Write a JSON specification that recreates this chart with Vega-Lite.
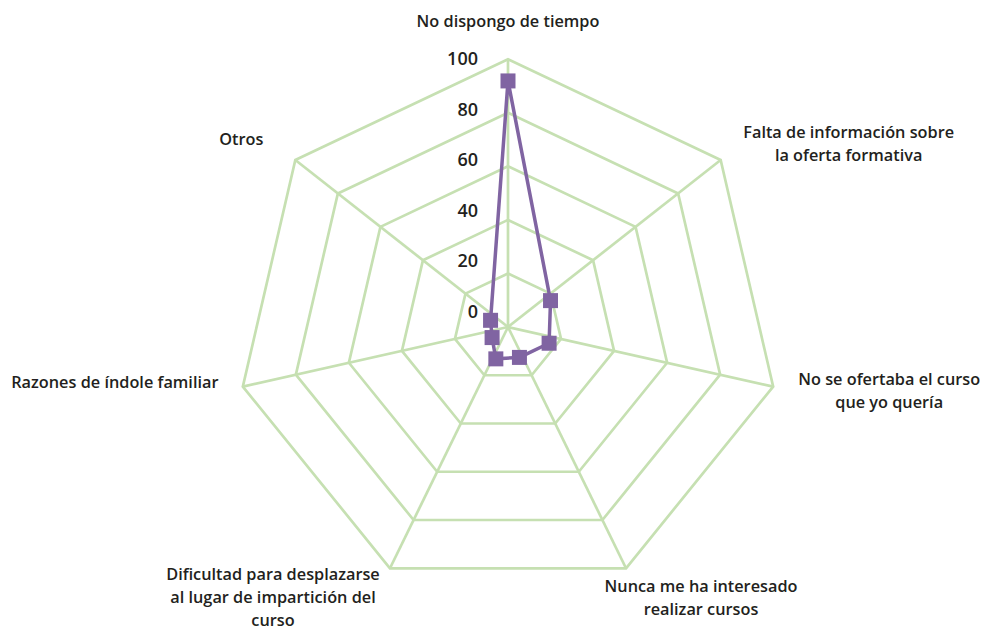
{
  "$schema": "https://vega.github.io/schema/vega-lite/v6.json",
  "width": 983,
  "height": 634,
  "autosize": "none",
  "padding": 0,
  "background": "white",
  "config": {"view": {"stroke": null}, "font": "Open Sans"},
  "resolve": {"scale": {"y": "independent"}},
  "datasets": {
    "axes": [
      {"idx": 0, "label": "No dispongo de tiempo", "value": 94.5},
      {"idx": 1, "label": "Falta de información sobre\nla oferta formativa", "value": 20},
      {"idx": 2, "label": "No se ofertaba el curso\nque yo quería", "value": 15.5},
      {"idx": 3, "label": "Nunca me ha interesado\nrealizar cursos", "value": 9.7},
      {"idx": 4, "label": "Dificultad para desplazarse\nal lugar de impartición del\ncurso", "value": 10.3},
      {"idx": 5, "label": "Razones de índole familiar", "value": 6},
      {"idx": 6, "label": "Otros", "value": 8.2}
    ],
    "grid": [
      {"idx": 0, "rings": [20, 40, 60, 80, 100]},
      {"idx": 1, "rings": [20, 40, 60, 80, 100]},
      {"idx": 2, "rings": [20, 40, 60, 80, 100]},
      {"idx": 3, "rings": [20, 40, 60, 80, 100]},
      {"idx": 4, "rings": [20, 40, 60, 80, 100]},
      {"idx": 5, "rings": [20, 40, 60, 80, 100]},
      {"idx": 6, "rings": [20, 40, 60, 80, 100]}
    ],
    "ticks": [
      {"tick": 0}, {"tick": 20}, {"tick": 40}, {"tick": 60}, {"tick": 80}, {"tick": 100}
    ]
  },
  "layer": [
    {
      "data": {"name": "grid"},
      "transform": [
        {"flatten": ["rings"], "as": ["ring"]},
        {"calculate": "datum.idx * 2 * PI / 7", "as": "theta"},
        {"calculate": "datum.ring * sin(datum.theta)", "as": "gx"},
        {"calculate": "datum.ring * cos(datum.theta)", "as": "gy"}
      ],
      "mark": {"type": "line", "interpolate": "linear-closed", "stroke": "#c6e0b2", "strokeWidth": 2.7},
      "encoding": {
        "x": {"field": "gx", "type": "quantitative", "scale": {"domain": [-186.76, 174.63]}, "axis": null},
        "y": {"field": "gy", "type": "quantitative", "scale": {"domain": [-114.64, 122.11]}, "axis": null},
        "detail": {"field": "ring", "type": "ordinal"},
        "order": {"field": "idx", "type": "quantitative"}
      }
    },
    {
      "data": {"name": "axes"},
      "transform": [
        {"calculate": "datum.idx * 2 * PI / 7", "as": "theta"},
        {"calculate": "100 * sin(datum.theta)", "as": "vx"},
        {"calculate": "100 * cos(datum.theta)", "as": "vy"},
        {"calculate": "0", "as": "zero"}
      ],
      "mark": {"type": "rule", "stroke": "#c6e0b2", "strokeWidth": 2.7},
      "encoding": {
        "x": {"field": "zero", "type": "quantitative", "scale": {"domain": [-186.76, 174.63]}, "axis": null},
        "y": {"field": "zero", "type": "quantitative", "scale": {"domain": [-114.64, 122.11]}, "axis": null},
        "x2": {"field": "vx"},
        "y2": {"field": "vy"}
      }
    },
    {
      "data": {"name": "ticks"},
      "transform": [{"calculate": "0", "as": "zero"}],
      "mark": {"type": "text", "align": "right", "baseline": "middle", "dx": -30, "fontSize": 18, "fontWeight": 600, "color": "#231f20"},
      "encoding": {
        "x": {"field": "zero", "type": "quantitative", "scale": {"domain": [-186.76, 174.63]}, "axis": null},
        "y": {"field": "tick", "type": "quantitative", "scale": {"domain": [-126.88, 123.72]}, "axis": null},
        "text": {"field": "tick", "type": "quantitative"}
      }
    },
    {
      "data": {"name": "axes"},
      "transform": [
        {"calculate": "datum.idx * 2 * PI / 7", "as": "theta"},
        {"calculate": "datum.value * sin(datum.theta)", "as": "px"},
        {"calculate": "datum.value * cos(datum.theta)", "as": "py"}
      ],
      "mark": {"type": "line", "interpolate": "linear-closed", "stroke": "#8064a2", "strokeWidth": 3.5},
      "encoding": {
        "x": {"field": "px", "type": "quantitative", "scale": {"domain": [-186.76, 174.63]}, "axis": null},
        "y": {"field": "py", "type": "quantitative", "scale": {"domain": [-112.02, 124.72]}, "axis": null},
        "order": {"field": "idx", "type": "quantitative"}
      }
    },
    {
      "data": {"name": "axes"},
      "transform": [
        {"calculate": "datum.idx * 2 * PI / 7", "as": "theta"},
        {"calculate": "datum.value * sin(datum.theta)", "as": "px"},
        {"calculate": "datum.value * cos(datum.theta)", "as": "py"}
      ],
      "mark": {"type": "point", "shape": "square", "filled": true, "size": 225, "color": "#8064a2", "opacity": 1},
      "encoding": {
        "x": {"field": "px", "type": "quantitative", "scale": {"domain": [-186.76, 174.63]}, "axis": null},
        "y": {"field": "py", "type": "quantitative", "scale": {"domain": [-112.02, 124.72]}, "axis": null}
      }
    },
    {
      "data": {"name": "axes"},
      "transform": [
        {"calculate": "datum.idx * 2 * PI / 7", "as": "theta"},
        {"calculate": "100 * sin(datum.theta)", "as": "lx"},
        {"calculate": "100 * cos(datum.theta)", "as": "ly"}
      ],
      "mark": {
        "type": "text",
        "lineBreak": "\n",
        "lineHeight": 23,
        "fontSize": 16.3,
        "fontWeight": 600,
        "color": "#231f20",
        "align": "center",
        "baseline": "middle",
        "dx": {"expr": "[0, 128, 116, 75, -117, -128, -54][datum.idx]"},
        "dy": {"expr": "[-37, -27, -7, 19, 7, -4, -20][datum.idx]"}
      },
      "encoding": {
        "x": {"field": "lx", "type": "quantitative", "scale": {"domain": [-186.76, 174.63]}, "axis": null},
        "y": {"field": "ly", "type": "quantitative", "scale": {"domain": [-114.64, 122.11]}, "axis": null},
        "text": {"field": "label", "type": "nominal"}
      }
    }
  ]
}
